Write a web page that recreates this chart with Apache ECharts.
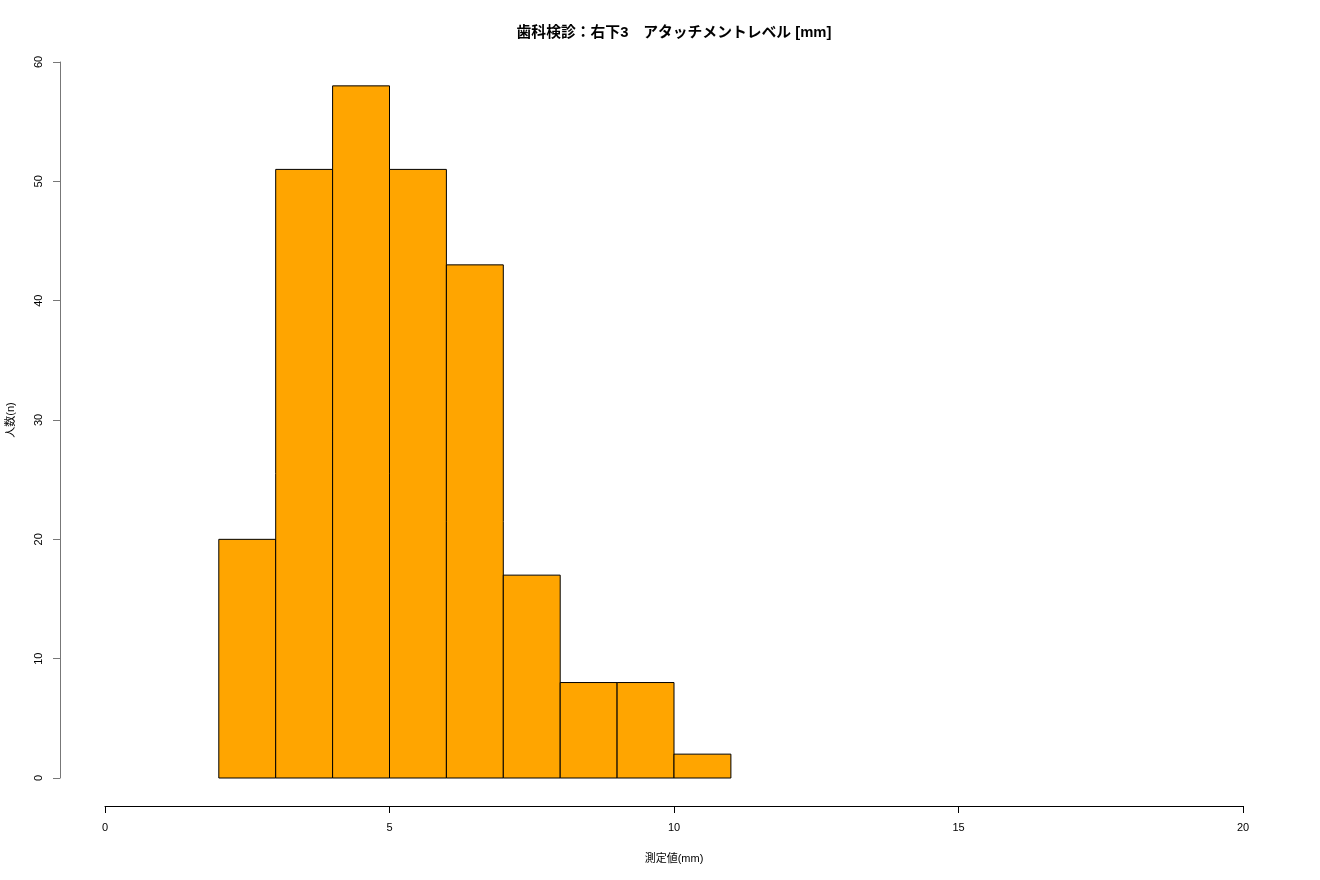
<!DOCTYPE html>
<html><head><meta charset="utf-8">
<script src="https://cdn.jsdelivr.net/npm/echarts@6/dist/echarts.min.js"></script>
<style>html,body{margin:0;padding:0;background:#fff}#c{width:1320px;height:880px}</style>
</head><body><div id="c"></div>
<script>
const binStarts = [2, 3, 4, 5, 6, 7, 8, 9, 10];
const binEnds = [3, 4, 5, 6, 7, 8, 9, 10, 11];
const counts = [20, 51, 58, 51, 43, 17, 8, 8, 2];
const xTicks = [0, 5, 10, 15, 20];
const yTicks = [0, 10, 20, 30, 40, 50, 60];
const titleText = '歯科検診：右下3　アタッチメントレベル [mm]';
const xName = '測定値(mm)';
const yName = '人数(n)';

const data = binStarts.map((s, i) => [s, binEnds[i], counts[i]]);
const font = '"Liberation Sans", "Noto Sans CJK JP", sans-serif';
const chart = echarts.init(document.getElementById('c'));
chart.setOption({
  animation: false,
  title: {text: titleText, left: 669, top: 21, textAlign: 'center',
    textStyle: {fontFamily: font, fontSize: 14.8, fontWeight: 'bold', color: '#000'}},
  grid: {left: 105, right: 77, top: 62, bottom: 102, containLabel: false, outerBoundsMode: 'none'},
  xAxis: {type: 'value', min: xTicks[0], max: xTicks[xTicks.length - 1], interval: 5, offset: 28,
    name: xName, nameLocation: 'middle', nameGap: 47,
    nameTextStyle: {fontFamily: font, fontSize: 11, color: '#000'},
    axisLine: {show: true, onZero: false, lineStyle: {color: '#000', width: 1}},
    axisTick: {show: true, length: 7, lineStyle: {color: '#000'}},
    axisLabel: {fontFamily: font, fontSize: 11, color: '#000', margin: 16},
    splitLine: {show: false}},
  yAxis: {type: 'value', min: yTicks[0], max: yTicks[yTicks.length - 1], interval: 10, offset: 45,
    name: yName, nameLocation: 'middle', nameGap: 44, nameRotate: 90,
    nameTextStyle: {fontFamily: font, fontSize: 11, color: '#000'},
    axisLine: {show: true, onZero: false, lineStyle: {color: '#777', width: 1}},
    axisTick: {show: true, length: 7, lineStyle: {color: '#777'}},
    axisLabel: {fontFamily: font, fontSize: 11, color: '#000', rotate: 90, margin: 16},
    splitLine: {show: false}},
  series: [{
    type: 'custom',
    data: data,
    encode: {x: [0, 1], y: 2},
    renderItem: function (params, api) {
      const p0 = api.coord([api.value(0), api.value(2)]);
      const p1 = api.coord([api.value(1), 0]);
      return {type: 'rect',
        shape: {x: p0[0], y: p0[1], width: p1[0] - p0[0], height: p1[1] - p0[1]},
        style: {fill: '#FFA500', stroke: '#000', lineWidth: 1}};
    }
  }]
});
</script></body></html>
